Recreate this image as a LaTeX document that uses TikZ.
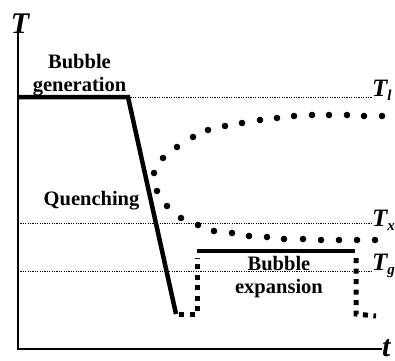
\documentclass[tikz,border=0pt]{standalone}
\usepackage{fontspec}
\setmainfont{Liberation Serif}
\usetikzlibrary{positioning}

\begin{document}
\begin{tikzpicture}[x=1pt, y=-1pt,
    axis/.style={line width=2pt},
    stage/.style={line width=4.5pt},
    refline/.style={line width=1pt, dash pattern=on 1.2pt off 1.2pt},
    pressure/.style={line width=5pt, dash pattern=on 5pt off 5.5pt},
    stagetext/.style={font=\fontsize{20.5}{22.7}\selectfont\bfseries, align=center, inner sep=0pt},
    axislabel/.style={font=\fontsize{30}{30}\selectfont\bfseries\itshape, inner sep=0pt},
    tlabel/.style={anchor=base west, font=\fontsize{25}{25}\selectfont\bfseries\itshape, inner sep=0pt}
]
\useasboundingbox (0,0) rectangle (395,360);

% Axes
\coordinate (ytop) at (18,33);
\coordinate (origin) at (18,349);
\coordinate (xend) at (382,349);
\draw[axis] (ytop) -- (origin) -- (xend);
\node[axislabel, anchor=base] (Taxis) at (20,33) {T};
\node[axislabel, anchor=base west] (taxis) at (382,356) {t};

% Reference temperatures
\coordinate (genstart) at (18,97);
\coordinate (genend) at (128,97);
\coordinate (quenchend) at (176,314);
\draw[refline] (genend) -- (372,97);
\draw[refline] (origin |- 0,223) -- (372,223);
\draw[refline] (origin |- 0,271) -- (372,271);
\node[tlabel] (Tl) at (372,96) {T\raisebox{-4pt}{\fontsize{15}{15}\selectfont l}};
\node[tlabel] (Tx) at (372,226) {T\raisebox{-4pt}{\fontsize{15}{15}\selectfont x}};
\node[tlabel] (Tg) at (372,270) {T\raisebox{-4pt}{\fontsize{15}{15}\selectfont g}};

% Temperature history
\draw[stage] (genstart) -- (genend) -- (quenchend);
\draw[stage] (197,251) -- (355,251);

% Pressure history
\draw[pressure] (179,314) -- (197,314) -- (197,258);
\draw[pressure] (356,258) -- (356,314) -- (376,316);

% Bubble temperature
\foreach \x/\y in {382/116,364/116,347/115,329/115,312/115,294/116,277/118,
    260/120,242/123,225/126,208/130,193/137,177/147,163/158,154/173,
    157/191,167/206,181/218,198/225,214/231,232/233,249/236,267/237,
    284/239,303/239,321/240,339/240,357/240,375/240}
    \fill (\x,\y) circle (3.3pt);

% Labels
\node[stagetext, anchor=base] (gen) at (79.5,91) {Bubble\\generation};
\node[stagetext, anchor=base] (quench) at (91.5,205) {Quenching};
\node[stagetext, anchor=base] (expand) at (279,293) {Bubble\\expansion};

\end{tikzpicture}
\end{document}
